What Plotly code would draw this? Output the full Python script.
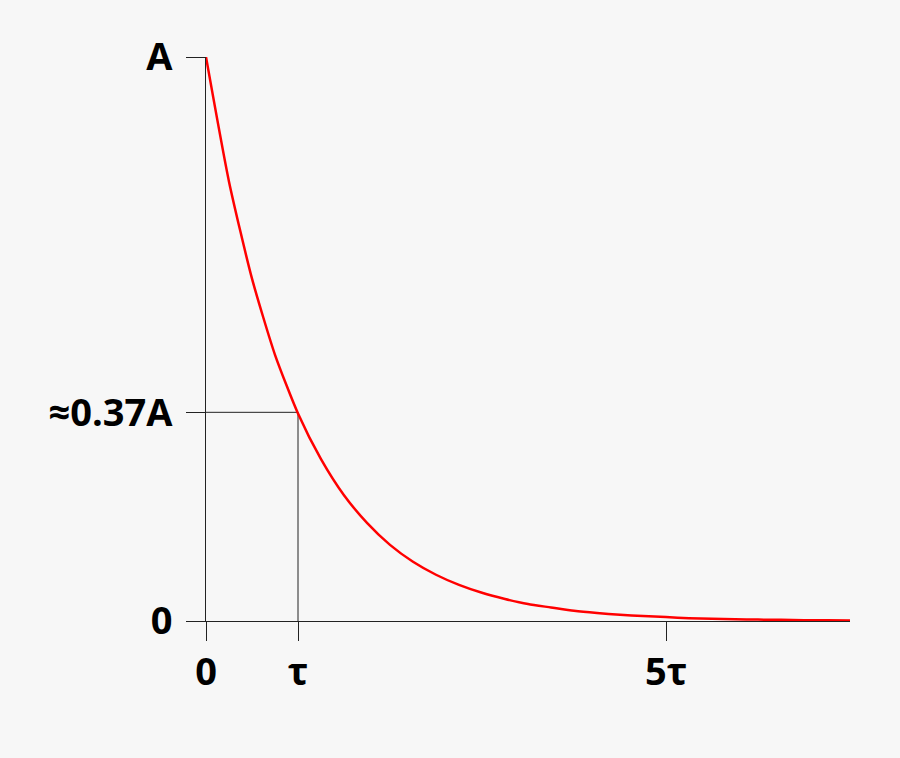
import plotly.graph_objects as go

# Time in units of tau, amplitude as fraction of A
t_vals = [0, 0.25, 0.5, 0.75, 1, 1.25, 1.5, 1.75, 2, 2.25, 2.5, 2.75, 3, 3.25, 3.5,
          3.75, 4, 4.25, 4.5, 4.75, 5, 5.25, 5.5, 5.75, 6, 6.25, 6.5, 6.75, 7]
y_vals = [1.0, 0.779, 0.607, 0.472, 0.368, 0.287, 0.223, 0.174, 0.135, 0.105, 0.082,
          0.064, 0.050, 0.039, 0.030, 0.024, 0.018, 0.014, 0.011, 0.009, 0.007, 0.005,
          0.004, 0.003, 0.0025, 0.002, 0.0015, 0.0012, 0.001]

x_tickvals = [0, 1, 5]
x_ticktext = ["0", "τ", "5τ"]
y_tickvals = [0, 0.37, 1]
y_ticktext = ["0", "≈0.37A", "A"]

tau_mark = 1
level_mark = 0.37

BG = "#f7f7f7"
AX = "#222222"
font = dict(family="Open Sans", size=38, color="black", weight="bold")

fig = go.Figure()
fig.add_trace(go.Scatter(x=t_vals, y=y_vals, mode="lines",
                         line=dict(color="#ff0000", width=2.5, shape="spline", smoothing=0.6),
                         cliponaxis=False, hoverinfo="skip"))

# guide lines at tau
fig.add_shape(type="line", x0=0, x1=tau_mark, y0=level_mark, y1=level_mark,
              line=dict(color=AX, width=1), layer="below")
fig.add_shape(type="line", x0=tau_mark, x1=tau_mark, y0=0, y1=level_mark,
              line=dict(color=AX, width=1), layer="below")

fig.update_layout(
    width=900, height=758,
    margin=dict(l=206, r=50, t=57, b=137),
    paper_bgcolor=BG, plot_bgcolor=BG,
    showlegend=False,
    xaxis=dict(range=[0, 7], showgrid=False, zeroline=False, showline=True,
               linecolor=AX, linewidth=1, ticks="outside", ticklen=19, tickwidth=1,
               tickcolor=AX, tickvals=x_tickvals, ticktext=x_ticktext,
               tickfont=font, ticklabelstandoff=-2),
    yaxis=dict(range=[0, 1], showgrid=False, zeroline=False, showline=True,
               linecolor=AX, linewidth=1, ticks="outside", ticklen=19, tickwidth=1,
               tickcolor=AX, tickvals=y_tickvals, ticktext=y_ticktext,
               tickfont=font, ticklabelstandoff=6),
)

fig.write_html("out.html", config={"displayModeBar": False},
               post_script="document.body.style.margin='0';document.body.style.background='%s';" % BG)
